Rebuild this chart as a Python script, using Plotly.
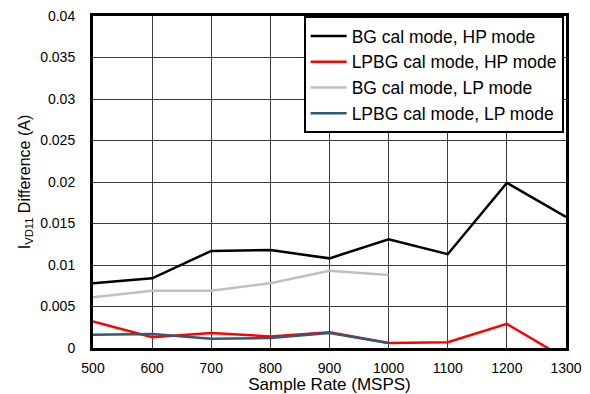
import plotly.graph_objects as go

# Sample rate (MSPS)
rate = [500, 600, 700, 800, 900, 1000, 1100, 1200, 1300]
rate_lp = [500, 600, 700, 800, 900, 1000]

# IVD11 difference (A)
bg_hp = [0.0078, 0.0084, 0.0117, 0.0118, 0.0108, 0.0131, 0.0113, 0.0199, 0.0158]
lpbg_hp = [0.0032, 0.0013, 0.0018, 0.0014, 0.0019, 0.0006, 0.0007, 0.0029, -0.0013]
bg_lp = [0.0061, 0.0069, 0.0069, 0.0078, 0.0093, 0.0088]
lpbg_lp = [0.0016, 0.0017, 0.0011, 0.0012, 0.0018, 0.0006]

names = ['BG cal mode, HP mode', 'LPBG cal mode, HP mode',
         'BG cal mode, LP mode', 'LPBG cal mode, LP mode']
colors = ['black', '#ff0000', '#bfbfbf', '#2e5a74']

fig = go.Figure()
series = [(rate, bg_hp), (rate, lpbg_hp), (rate_lp, bg_lp), (rate_lp, lpbg_lp)]
for (xs, ys), name, color in zip(series, names, colors):
    fig.add_trace(go.Scatter(x=xs, y=ys, mode='lines', name=name,
                             line=dict(color=color, width=2.5)))

fig.update_layout(
    width=590, height=394,
    margin=dict(l=93, r=24, t=16, b=46),
    plot_bgcolor='white', paper_bgcolor='white',
    font=dict(family='Liberation Sans, Arial, sans-serif', size=14, color='black'),
    showlegend=True,
    legend=dict(x=0.995, y=1, xanchor='right', yanchor='top',
                bordercolor='black', borderwidth=2, bgcolor='white',
                font=dict(size=17.5), tracegroupgap=0, itemwidth=36),
)
fig.update_xaxes(range=[500, 1300], dtick=100, showgrid=True,
                 gridcolor='#3a3a3a', gridwidth=1, automargin=False,
                 showline=True, linecolor='black', linewidth=3, mirror=True,
                 ticks='', zeroline=False, ticklabelstandoff=5,
                 title=dict(text='Sample Rate (MSPS)', standoff=0))
fig.update_yaxes(range=[0, 0.04], dtick=0.005, showgrid=True,
                 gridcolor='#3a3a3a', gridwidth=1, automargin=False,
                 showline=True, linecolor='black', linewidth=3, mirror=True,
                 ticks='', zeroline=False, tickformat='~g', ticklabelstandoff=12,
                 title=dict(text='I<sub>VD11</sub> Difference (A)', font=dict(size=16),
                            standoff=6))

# drop the browser's default body margin so the figure sits at the page corner
fig.write_html('out.html', config={'displayModeBar': False},
               post_script="document.body.style.margin='0';")
